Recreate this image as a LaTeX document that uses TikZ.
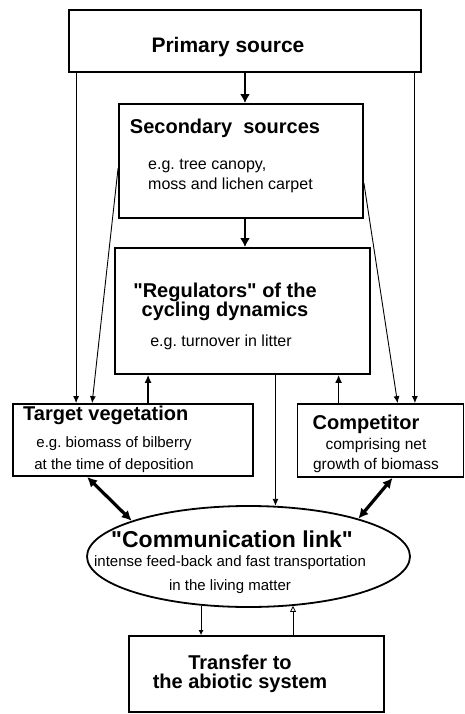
\documentclass[tikz,border=0pt]{standalone}
\usepackage{fontspec}
\setmainfont{Liberation Sans}
\usetikzlibrary{arrows.meta,shapes.geometric}
\frenchspacing

\tikzset{
  box/.style={draw, line width=1.8pt, inner sep=0pt},
  ttl/.style={font=\bfseries\fontsize{20}{19}\selectfont, inner sep=0pt, align=center},
  sub/.style={font=\fontsize{16}{20}\selectfont, inner sep=0pt, align=center},
  flow/.style={line width=0.9pt, -{Latex[length=7pt,width=6pt]}},
  mainflow/.style={line width=2.2pt, -{Latex[length=9pt,width=10pt]}},
  link/.style={line width=3.2pt, {Latex[length=10pt,width=10pt]}-{Latex[length=10pt,width=10pt]}},
}

\begin{document}
\begin{tikzpicture}[x=1pt,y=-1pt]
\useasboundingbox (0,0) rectangle (465,714);

% boxes
\node[box, minimum width=352pt, minimum height=62pt] (primary) at (245,41) {};
\node[box, minimum width=244pt, minimum height=114pt] (secondary) at (241,161) {};
\node[box, minimum width=255pt, minimum height=126pt] (regulators) at (242.5,311) {};
\node[box, minimum width=240pt, minimum height=72pt] (target) at (133,440) {};
\node[box, minimum width=166pt, minimum height=73pt] (competitor) at (380.5,440.5) {};
\node[draw, ellipse, line width=1.8pt, minimum width=323pt, minimum height=101pt] (comm) at (248.5,556.5) {};
\node[box, minimum width=255pt, minimum height=76pt] (transfer) at (256.5,674) {};

% texts
\node[ttl, font=\bfseries\fontsize{21}{19}\selectfont] (primarytxt) at (228,47) {Primary source};
\node[ttl] (secondarytxt) at (225,128) {Secondary\ \ sources};
\node[sub, anchor=west, align=left] (secondarysub) at (148,176) {e.g. tree canopy,\\moss and lichen carpet};
\node[ttl] (regulatorstxt) at (225,302) {\textquotedbl Regulators\textquotedbl{} of the\\cycling dynamics};
\node[sub] (regulatorssub) at (221,342) {e.g. turnover in litter};
\node[ttl, anchor=west] (targettxt) at (23,415) {Target vegetation};
\node[sub, font=\fontsize{15}{22}\selectfont] (targetsub) at (114,455) {e.g. biomass of bilberry\\at the time of deposition};
\node[ttl] (competitortxt) at (366,424) {Competitor};
\node[sub, font=\fontsize{15.5}{20}\selectfont] (competitorsub) at (376,455) {comprising net\\growth of biomass};
\node[ttl, font=\bfseries\fontsize{23}{24}\selectfont] (commtxt) at (232,539) {\textquotedbl Communication link\textquotedbl};
\node[sub, font=\fontsize{15}{24}\selectfont] (commsub) at (230,575) {intense feed-back and fast transportation\\in the living matter};
\node[ttl] (transfertxt) at (240,673.5) {Transfer to\\the abiotic system};

% connectors
\draw[mainflow] (primary.south) -- (primary.south |- secondary.north);
\draw[mainflow] ([xshift=4pt]secondary.south) -- ([xshift=4pt]secondary.south |- regulators.north);
\draw[flow] ([xshift=8pt]primary.south west) -- ([xshift=8pt]primary.south west |- target.north);
\draw[flow] ([xshift=-7pt]primary.south east) -- ([xshift=-7pt]primary.south east |- competitor.north);
\draw[flow] ([yshift=-7pt]secondary.west) -- ([xshift=80pt]target.north west);
\draw[flow] ([yshift=-22pt]secondary.east) -- ([xshift=101pt]competitor.north west);
\draw[flow, line width=1.3pt, -{Latex[length=8pt,width=7pt]}] ([xshift=136pt]target.north west) -- ([xshift=136pt]target.north west |- regulators.south);
\draw[flow, line width=1.3pt, -{Latex[length=8pt,width=7pt]}] ([xshift=42pt]competitor.north west) -- ([xshift=42pt]competitor.north west |- regulators.south);
\draw[flow] (comm.62 |- regulators.south) -- (comm.62);
\draw[link] ([xshift=75pt]target.south west) -- (comm.163);
\draw[link] ([xshift=96pt]competitor.south west) -- (comm.19);
\draw[line width=0.8pt, -{Latex[length=5pt,width=5pt]}] (comm.226) -- (comm.226 |- transfer.north);
\draw[line width=0.8pt, -{Triangle[open, length=6pt, width=6pt]}] (comm.-48 |- transfer.north) -- (comm.-48);

\end{tikzpicture}
\end{document}
